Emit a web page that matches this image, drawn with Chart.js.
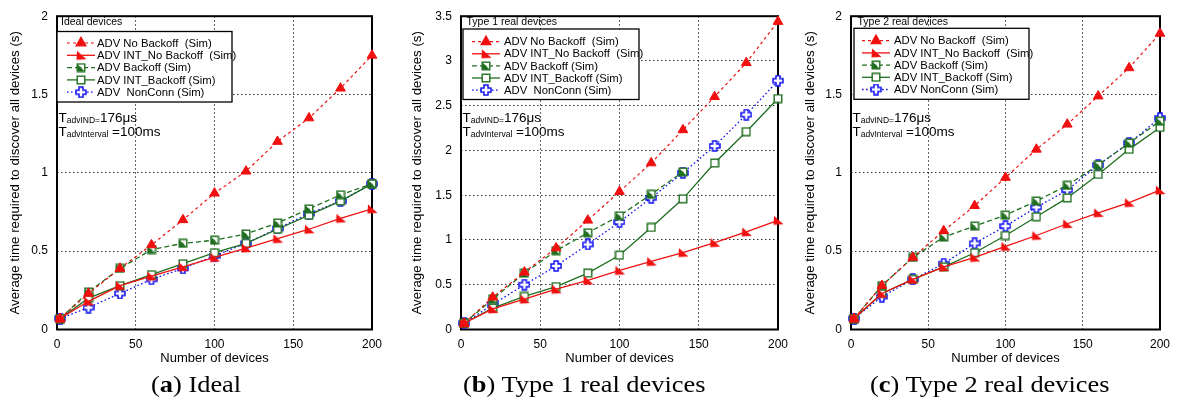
<!DOCTYPE html>
<html><head><meta charset="utf-8">
<script src="https://cdn.jsdelivr.net/npm/chart.js@4.4.0/dist/chart.umd.min.js"></script>
<style>
body{margin:0;width:1178px;height:405px;background:#fff;position:relative;overflow:hidden;}
canvas{position:absolute;top:0;}
.cap{position:absolute;top:372px;font-family:"Liberation Serif","DejaVu Serif",serif;font-size:24px;line-height:25px;color:#000;white-space:nowrap;transform:scaleX(1.1);transform-origin:0 0;}
</style></head><body>
<canvas id="ca" width="392" height="372" style="left:0px"></canvas>
<canvas id="cb" width="396" height="372" style="left:400px"></canvas>
<canvas id="cc" width="382" height="372" style="left:796px"></canvas>
<div class="cap" style="left:151px">(<b>a</b>) Ideal</div>
<div class="cap" style="left:463px">(<b>b</b>) Type 1 real devices</div>
<div class="cap" style="left:870px">(<b>c</b>) Type 2 real devices</div>
<script>
// ---------- data ----------
const xDevices = [2,20,40,60,80,100,120,140,160,180,200];
const xDevicesTo140 = [2,20,40,60,80,100,120,140];
const seriesLabels = ['ADV No Backoff  (Sim)','ADV INT_No Backoff  (Sim)','ADV Backoff (Sim)','ADV INT_Backoff (Sim)','ADV  NonConn (Sim)'];
const seriesLabelsC = ['ADV No Backoff  (Sim)','ADV INT_No Backoff  (Sim)','ADV Backoff (Sim)','ADV INT_Backoff (Sim)','ADV NonConn (Sim)'];
const panelTitles = ['Ideal devices','Type 1 real devices','Type 2 real devices'];
const xTitle = 'Number of devices';
const yTitle = 'Average time required to discover all devices (s)';

const idealNoBackoff    = [0.07,0.23,0.39,0.54,0.70,0.87,1.01,1.20,1.35,1.54,1.75];
const idealIntNoBackoff = [0.07,0.18,0.28,0.34,0.40,0.46,0.52,0.58,0.64,0.71,0.77];
const idealBackoff      = [0.07,0.24,0.39,0.51,0.55,0.57,0.61,0.68,0.77,0.86,0.93];
const idealIntBackoff   = [0.07,0.20,0.28,0.35,0.42,0.49,0.55,0.64,0.73,0.82,0.93];
const idealNonConn      = [0.07,0.14,0.23,0.32,0.39,0.47,0.55,0.645,0.74,0.82,0.93];

const type1NoBackoff    = [0.07,0.36,0.64,0.91,1.22,1.54,1.86,2.23,2.60,2.98,3.44];
const type1IntNoBackoff = [0.07,0.23,0.34,0.45,0.55,0.66,0.76,0.86,0.97,1.09,1.22];
const type1Backoff      = [0.07,0.34,0.63,0.88,1.08,1.27,1.51,1.76];
const type1IntBackoff   = [0.07,0.24,0.37,0.48,0.63,0.83,1.14,1.46,1.86,2.21,2.58];
const type1NonConn      = [0.07,0.28,0.50,0.71,0.95,1.20,1.47,1.75,2.05,2.40,2.78];

const type2NoBackoff    = [0.07,0.28,0.46,0.63,0.79,0.97,1.15,1.31,1.49,1.67,1.89];
const type2IntNoBackoff = [0.07,0.23,0.32,0.40,0.46,0.53,0.60,0.675,0.745,0.81,0.89];
const type2Backoff      = [0.07,0.28,0.46,0.59,0.66,0.73,0.82,0.92,1.05,1.19,1.33];
const type2IntBackoff   = [0.07,0.23,0.32,0.40,0.49,0.60,0.72,0.84,0.99,1.15,1.29];
const type2NonConn      = [0.07,0.21,0.32,0.42,0.55,0.66,0.78,0.89,1.05,1.19,1.35];

// ---------- styles ----------
const RED='#f01010', GREEN='#1e6e1e', BLUE='#1010f0';
const SANS='"Liberation Sans", Arial, sans-serif';
function mk(w,h,fn){const c=document.createElement('canvas');c.width=w;c.height=h;fn(c.getContext('2d'));return c;}
const mTriTilt = mk(12,12,g=>{g.fillStyle=RED;g.beginPath();g.moveTo(2,1.5);g.lineTo(1.5,10.5);g.lineTo(11.5,10);g.closePath();g.fill();});
const mHalfSq = mk(10,10,g=>{g.fillStyle='#fff';g.fillRect(1,1,8,8);g.fillStyle=GREEN;g.beginPath();g.moveTo(1.5,1.5);g.lineTo(1.5,8.5);g.lineTo(8.5,8.5);g.closePath();g.fill();g.fillRect(1.5,4.5,4,4);g.strokeStyle=GREEN;g.lineWidth=1.4;g.strokeRect(1.2,1.2,7.6,7.6);});
const mOpenSq = mk(10,10,g=>{g.fillStyle='#fff';g.fillRect(1,1,8,8);g.strokeStyle=GREEN;g.lineWidth=1.4;g.strokeRect(1.2,1.2,7.6,7.6);});
const mPlus = mk(12,12,g=>{const a=4,b=8;g.beginPath();g.moveTo(a,1);g.lineTo(b,1);g.lineTo(b,a);g.lineTo(11,a);g.lineTo(11,b);g.lineTo(b,b);g.lineTo(b,11);g.lineTo(a,11);g.lineTo(a,b);g.lineTo(1,b);g.lineTo(1,a);g.lineTo(a,a);g.closePath();g.fillStyle='#fff';g.fill();g.strokeStyle=BLUE;g.lineWidth=1.5;g.stroke();});

function pts(xs,ys){return ys.map((v,i)=>({x:xs[i],y:v}));}
function makeSets(labels,a,b,c,d,e,cx){
  return [
    {label:labels[0],data:pts(xDevices,a),borderColor:RED,borderWidth:1.2,borderDash:[3,3],pointStyle:'triangle',pointRadius:5.6,pointBackgroundColor:RED,pointBorderColor:RED,pointBorderWidth:1},
    {label:labels[1],data:pts(xDevices,b),borderColor:RED,borderWidth:1.3,borderDash:[],pointStyle:mTriTilt,pointRadius:6,pointBackgroundColor:RED,pointBorderColor:RED,pointBorderWidth:0},
    {label:labels[2],data:pts(cx,c),borderColor:GREEN,borderWidth:1.3,borderDash:[5,3],pointStyle:mHalfSq,pointRadius:5,pointBackgroundColor:GREEN,pointBorderColor:GREEN,pointBorderWidth:0},
    {label:labels[3],data:pts(xDevices,d),borderColor:GREEN,borderWidth:1.3,borderDash:[],pointStyle:mOpenSq,pointRadius:5,pointBackgroundColor:'#fff',pointBorderColor:GREEN,pointBorderWidth:0},
    {label:labels[4],data:pts(xDevices,e),borderColor:BLUE,borderWidth:1.3,borderDash:[1.6,2.4],pointStyle:mPlus,pointRadius:6,pointBackgroundColor:'#fff',pointBorderColor:BLUE,pointBorderWidth:0}
  ].map(s=>Object.assign(s,{fill:false,tension:0,clip:false,pointHoverRadius:s.pointRadius}));
}

const decor = {
  id:'decor',
  beforeDatasetsDraw(chart){
    const ctx=chart.ctx, ca=chart.chartArea;
    ctx.save();ctx.strokeStyle='#000';ctx.lineWidth=2;ctx.setLineDash([]);
    ctx.strokeRect(ca.left,ca.top,ca.right-ca.left,ca.bottom-ca.top);ctx.restore();
  },
  afterDatasetsDraw(chart,args,o){
    const ctx=chart.ctx, ca=chart.chartArea;
    ctx.save();
    ctx.fillStyle='#000';ctx.textBaseline='middle';ctx.textAlign='left';
    ctx.font='10.5px '+SANS;
    ctx.fillText(o.title, ca.left+o.titleDx, 22);
    const bx=ca.left+o.boxDx, by=o.boxTop, bw=o.boxW, bh=o.boxH;
    ctx.fillStyle='#fff';ctx.fillRect(bx,by,bw,bh);
    ctx.strokeStyle='#000';ctx.lineWidth=1.3;ctx.strokeRect(bx,by,bw,bh);
    chart.data.datasets.forEach((ds,i)=>{
      const y=o.row0+i*o.rowDy;
      ctx.save();ctx.strokeStyle=ds.borderColor;ctx.lineWidth=ds.borderWidth;ctx.setLineDash(ds.borderDash);
      ctx.beginPath();ctx.moveTo(bx+o.lx0,y);ctx.lineTo(bx+o.lx1,y);ctx.stroke();ctx.restore();
      ctx.save();ctx.setLineDash([]);ctx.fillStyle=ds.pointBackgroundColor;ctx.strokeStyle=ds.pointBorderColor;
      Chart.helpers.drawPoint(ctx,{pointStyle:ds.pointStyle,radius:ds.pointRadius,rotation:0,borderWidth:ds.pointBorderWidth},bx+(o.lx0+o.lx1)/2,y);
      ctx.restore();
      ctx.fillStyle='#000';ctx.font='11.3px '+SANS;ctx.textBaseline='middle';
      ctx.fillText(ds.label,bx+o.tx,y+0.5);
    });
    const ax=ca.left+1.5;
    ctx.textBaseline='alphabetic';ctx.fillStyle='#000';
    let x=ax;
    const seg=(t,f,dy,yb)=>{ctx.font=f;ctx.fillText(t,x,yb+dy);x+=ctx.measureText(t).width;};
    seg('T','13.5px '+SANS,0,121.5);seg('advIND=','8.5px '+SANS,1.5,121.5);seg('176μs','13.5px '+SANS,0,121.5);
    x=ax;
    seg('T','13.5px '+SANS,0,135.5);seg('advInterval','8.5px '+SANS,1.5,135.5);seg(' =100ms','13.5px '+SANS,0,135.5);
    ctx.restore();
  }
};

const fmt = v => String(Math.round(v*100)/100);

function makeChart(id,sets,ymax,yw,padR,ytPad,dec){
  new Chart(document.getElementById(id),{
    type:'line',
    data:{datasets:sets},
    options:{
      responsive:false,animation:false,events:[],
      layout:{padding:{top:13.5,right:padR,left:0,bottom:0}},
      plugins:{legend:{display:false},tooltip:{enabled:false},decor:dec},
      scales:{
        x:{type:'linear',min:0,max:200,
          ticks:{stepSize:50,color:'#000',font:{family:SANS,size:12},padding:8,maxRotation:0,callback:fmt},
          grid:{drawTicks:false,color:'rgba(0,0,0,0.8)',lineWidth:1},
          border:{display:false,dash:[1.5,2.5]},
          title:{display:true,text:xTitle,color:'#000',font:{family:SANS,size:13},padding:{top:0,bottom:6}},
          afterFit(s){s.height=42.5;}},
        y:{type:'linear',min:0,max:ymax,
          ticks:{stepSize:0.5,color:'#000',font:{family:SANS,size:12},padding:9,callback:fmt},
          grid:{drawTicks:false,color:'rgba(0,0,0,0.8)',lineWidth:1},
          border:{display:false,dash:[1.5,2.5]},
          title:{display:true,text:yTitle,color:'#000',font:{family:SANS,size:13.3},padding:{top:ytPad,bottom:0}},
          afterFit(s){s.width=yw;}}
      }
    },
    plugins:[decor]
  });
}

makeChart('ca',makeSets(seriesLabels,idealNoBackoff,idealIntNoBackoff,idealBackoff,idealIntBackoff,idealNonConn,xDevices),2,57,20,7,
  {title:panelTitles[0],titleDx:4,boxDx:0,boxTop:31.5,boxW:175,boxH:70.5,row0:43,rowDy:12.3,lx0:10,lx1:38,tx:40});
makeChart('cb',makeSets(seriesLabels,type1NoBackoff,type1IntNoBackoff,type1Backoff,type1IntBackoff,type1NonConn,xDevicesTo140),3.5,61,18,9,
  {title:panelTitles[1],titleDx:5.5,boxDx:2,boxTop:29,boxW:176,boxH:70.5,row0:41.7,rowDy:12.1,lx0:9,lx1:37,tx:41});
makeChart('cc',makeSets(seriesLabelsC,type2NoBackoff,type2IntNoBackoff,type2Backoff,type2IntBackoff,type2NonConn,xDevices),2,55,10,6,
  {title:panelTitles[2],titleDx:6.5,boxDx:3,boxTop:28.3,boxW:175,boxH:71,row0:40.7,rowDy:12.2,lx0:8,lx1:36,tx:40});
</script>
</body></html>
